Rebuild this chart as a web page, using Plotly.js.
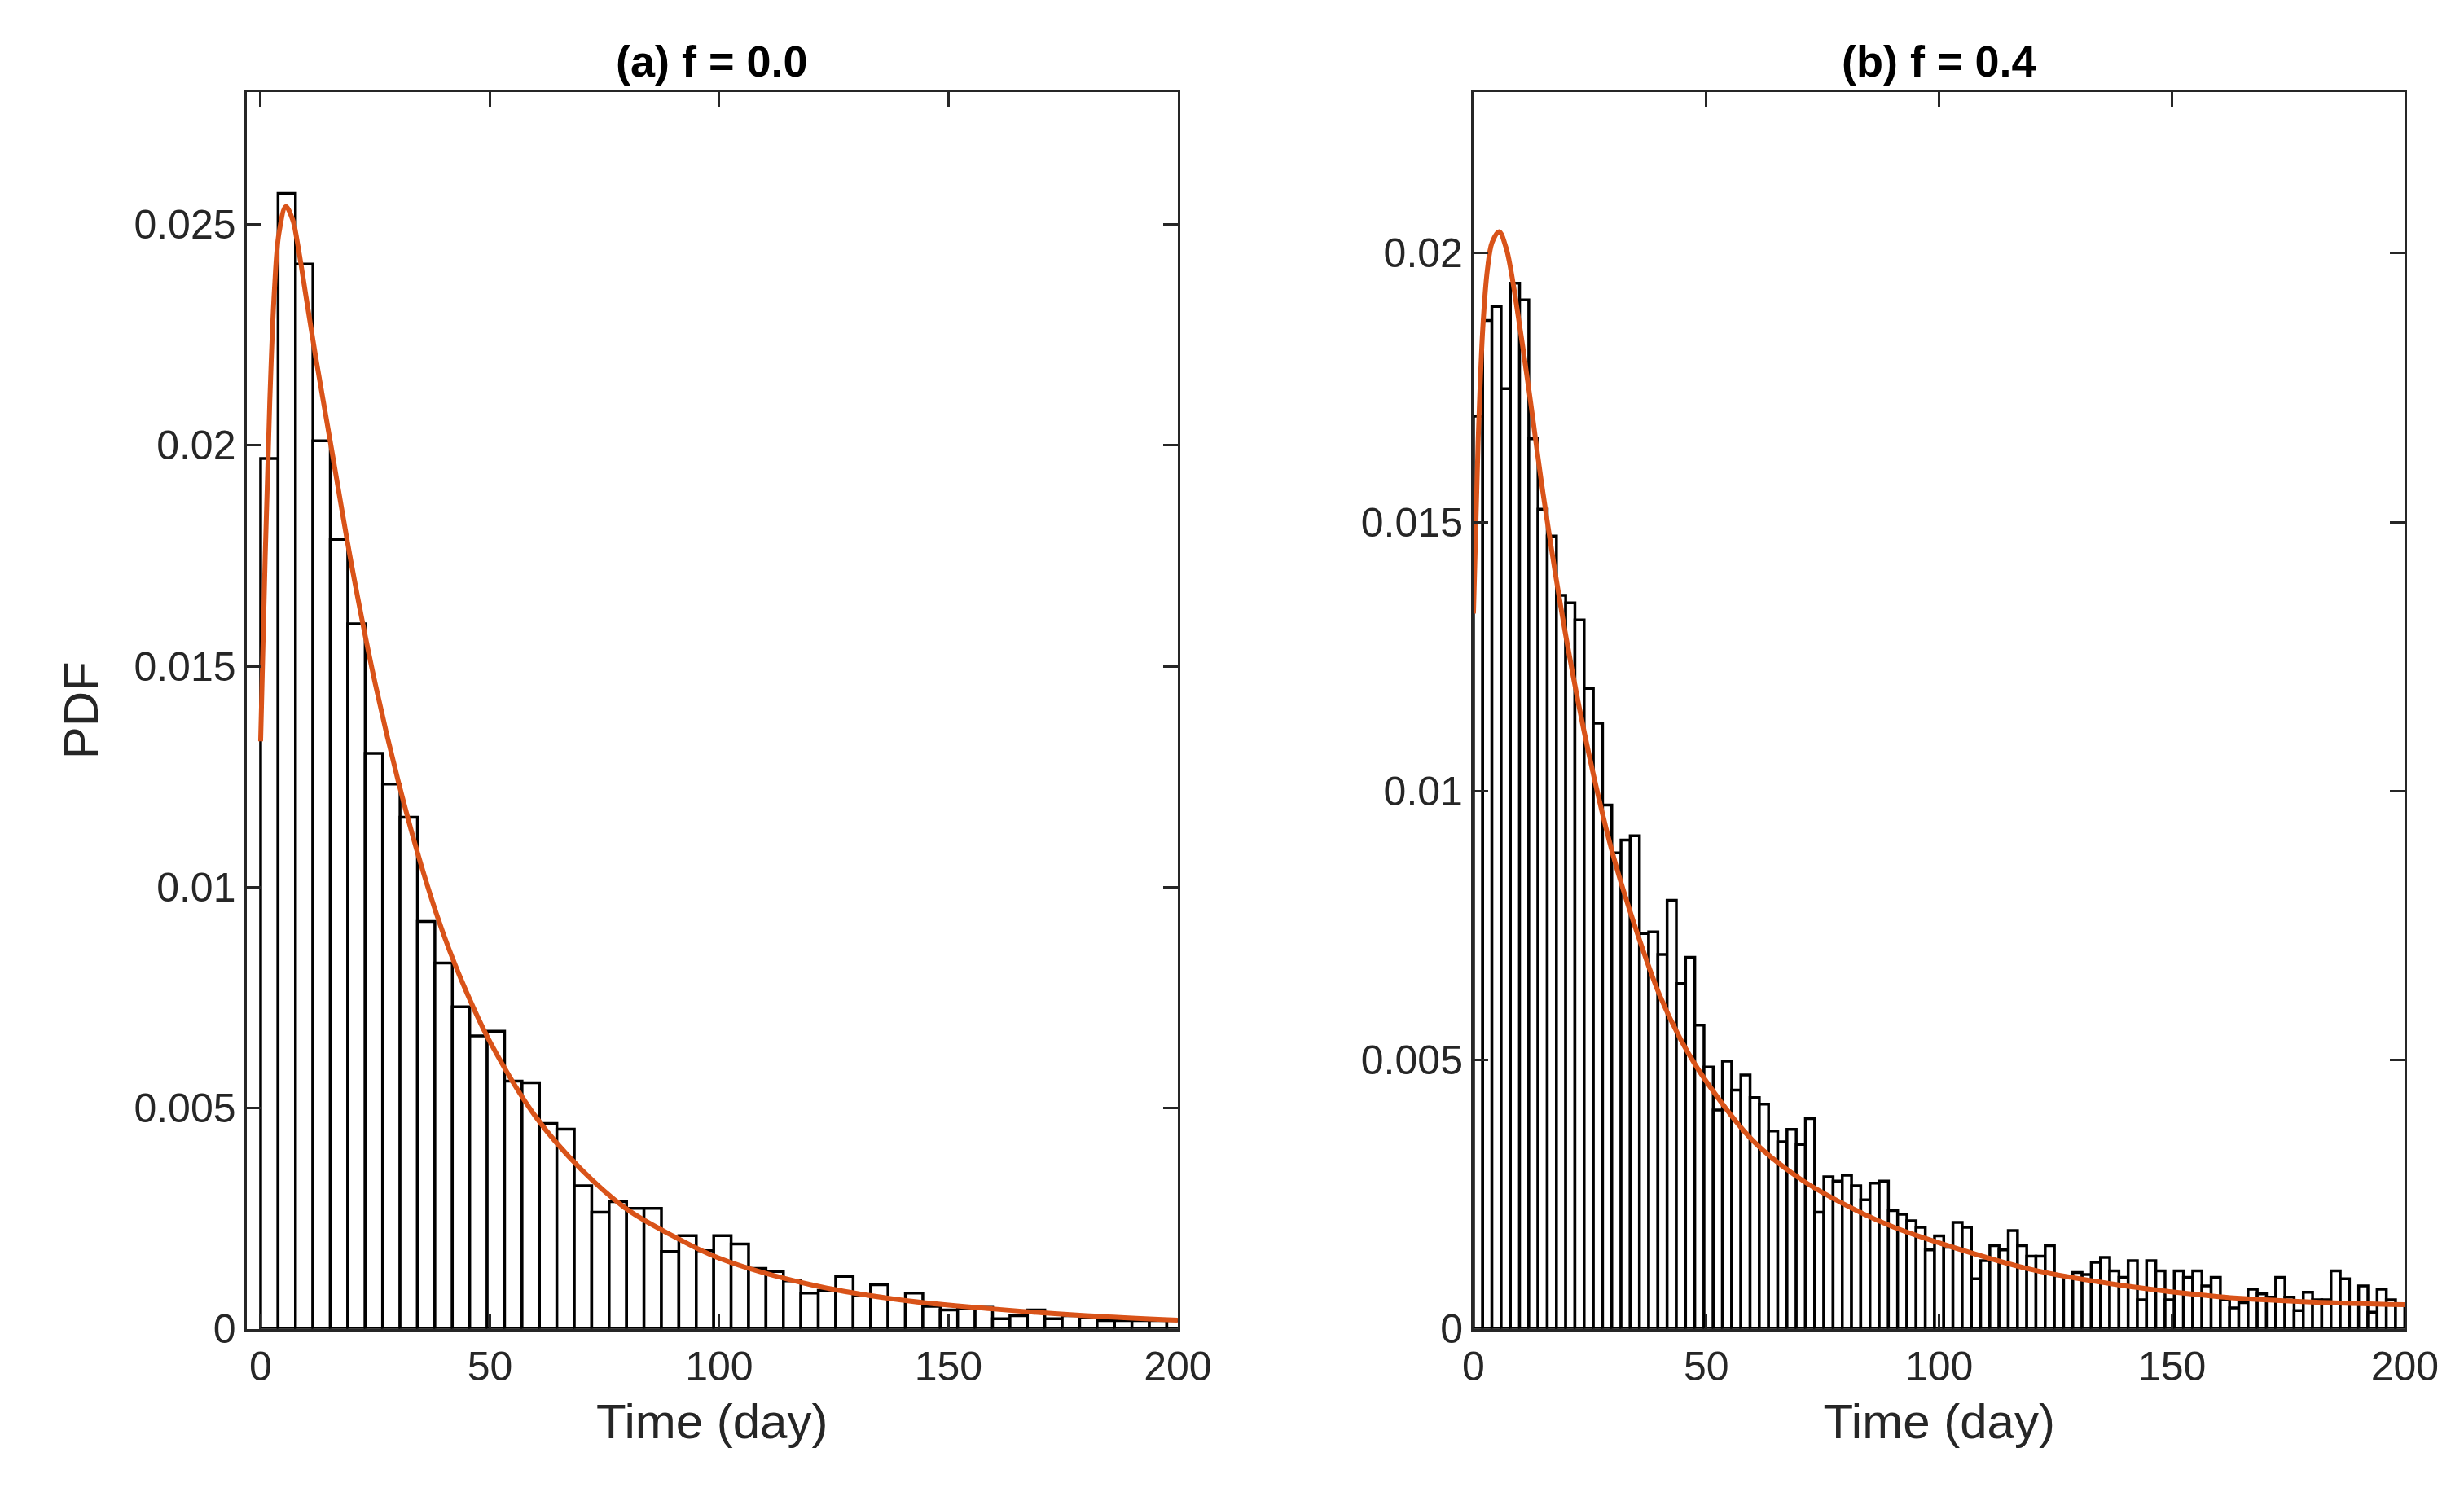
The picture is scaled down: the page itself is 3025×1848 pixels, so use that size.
<!DOCTYPE html>
<html>
<head>
<meta charset="utf-8">
<script src="https://cdn.plot.ly/plotly-3.0.1.min.js"></script>
<style>body{margin:0;background:#fff}#chart{width:3025px;height:1848px}</style>
</head>
<body>
<div id="chart"></div>
<script>
// histogram bin heights
var binA = 3.8;
var histA = [0.0197,0.0257,0.0241,0.0201,0.01787,0.01596,0.01303,0.01233,0.01158,0.00922,
  0.00828,0.00729,0.00663,0.00674,0.00561,0.00557,0.00465,0.00452,0.00324,0.00264,
  0.00288,0.00273,0.00273,0.00175,0.00211,0.00177,0.00211,0.00192,0.00137,0.0013,
  0.00109,0.00081,0.00087,0.00119,0.00075,0.001,0.00066,0.00081,0.00051,0.00043,
  0.00047,0.00049,0.00023,0.0003,0.00043,0.00023,0.0003,0.00026,0.00019,0.00019,
  0.00019,0.00019,0.00019];
var binB = 1.98;
var histB = [0.01697,0.01875,0.01901,0.01748,0.01944,0.01913,0.01655,0.01524,0.01474,0.01364,
  0.0135,0.01318,0.01191,0.01126,0.00974,0.00885,0.00909,0.00917,0.00735,0.00738,
  0.00696,0.00797,0.00642,0.00691,0.00565,0.00487,0.00407,0.00498,0.00444,0.00472,
  0.0043,0.00418,0.00368,0.00348,0.00371,0.00343,0.00391,0.00217,0.00283,0.00275,
  0.00286,0.00266,0.0024,0.00271,0.00275,0.0022,0.00213,0.00201,0.00189,0.00147,
  0.00173,0.00152,0.00198,0.00189,0.00093,0.00127,0.00155,0.00147,0.00183,0.00155,
  0.00135,0.00135,0.00155,0.00099,0.00096,0.00105,0.00101,0.00124,0.00133,0.00108,
  0.00096,0.00127,0.00054,0.00127,0.00108,0.00054,0.00108,0.00096,0.00108,0.0008,
  0.00096,0.00054,0.00039,0.00049,0.00074,0.00065,0.00059,0.00096,0.00059,0.00034,
  0.00068,0.00054,0.00054,0.00108,0.00093,0.00049,0.0008,0.00031,0.00074,0.00054,
  0.00046];

// fitted PDF curves
var fitX = [0,1,2,3,4,5.5,7,8,10,12,15,20,25,30,35,40,45,50,60,70,80,90,100,120,140,160,180,200];
var fitA = [0.0133,0.0175,0.0210,0.0235,0.0248,0.0254,0.0251,0.0246,0.0233,0.0220,0.0202,0.0172,0.0146,0.0124,0.0105,0.0089,0.0076,0.0065,0.0048,0.0036,0.0027,0.0021,0.0016,0.0010,0.00065,0.00045,0.0003,0.0002];
var fitB = [0.0133,0.0165,0.0186,0.0197,0.0202,0.0204,0.0201,0.0197,0.0186,0.0174,0.0155,0.0128,0.0106,0.0088,0.0074,0.0062,0.0053,0.0046,0.0035,0.0028,0.0023,0.0019,0.0016,0.0011,0.0008,0.0006,0.0005,0.00045];

function centers(n, w) { var c = []; for (var i = 0; i < n; i++) c.push((i + 0.5) * w); return c; }

var barStyle = {color: 'white', line: {color: 'black', width: 3.5}};
var lineStyle = {color: '#D95319', width: 6, shape: 'spline'};
var traces = [
  {type: 'bar', x: centers(histA.length, binA), y: histA, width: binA, marker: barStyle, xaxis: 'x', yaxis: 'y'},
  {type: 'scatter', mode: 'lines', x: fitX, y: fitA, line: lineStyle, xaxis: 'x', yaxis: 'y'},
  {type: 'bar', x: centers(histB.length, binB), y: histB, width: binB, marker: barStyle, xaxis: 'x2', yaxis: 'y2'},
  {type: 'scatter', mode: 'lines', x: fitX, y: fitB, line: lineStyle, xaxis: 'x2', yaxis: 'y2'}
];

var font = {family: 'Liberation Sans, Arial, sans-serif', size: 50, color: '#262626'};
function ax(extra) {
  var a = {showline: true, mirror: 'ticks', linecolor: '#262626', linewidth: 3, ticks: 'inside',
    ticklen: 18, tickwidth: 3, tickcolor: '#262626', showgrid: false, zeroline: false, tickfont: font};
  for (var k in extra) a[k] = extra[k];
  return a;
}
var xt = {text: 'Time (day)', font: {family: font.family, size: 60, color: '#262626'}, standoff: 20};
var layout = {
  width: 3025, height: 1848, showlegend: false, plot_bgcolor: 'white', paper_bgcolor: 'white',
  margin: {l: 0, r: 0, t: 0, b: 0}, bargap: 0,
  xaxis: ax({domain: [0.100, 0.478], range: [-3.1, 200], tickvals: [0, 50, 100, 150, 200], title: xt}),
  yaxis: ax({domain: [0.117, 0.939], range: [0, 0.028], tickvals: [0, 0.005, 0.01, 0.015, 0.02, 0.025],
    ticktext: ['0', '0.005', '0.01', '0.015', '0.02', '0.025'],
    title: {text: 'PDF', font: {family: font.family, size: 60, color: '#262626'}, standoff: 25}}),
  xaxis2: ax({domain: [0.598, 0.976], range: [0, 200], tickvals: [0, 50, 100, 150, 200], title: xt, anchor: 'y2'}),
  yaxis2: ax({domain: [0.117, 0.939], range: [0, 0.023], tickvals: [0, 0.005, 0.01, 0.015, 0.02],
    ticktext: ['0', '0.005', '0.01', '0.015', '0.02'], anchor: 'x2'}),
  annotations: [
    {text: '<b>(a) f = 0.0</b>', x: 0.289, y: 0.942, xref: 'paper', yref: 'paper', xanchor: 'center', yanchor: 'bottom', showarrow: false, font: {family: font.family, size: 54, color: 'black'}},
    {text: '<b>(b) f = 0.4</b>', x: 0.787, y: 0.942, xref: 'paper', yref: 'paper', xanchor: 'center', yanchor: 'bottom', showarrow: false, font: {family: font.family, size: 54, color: 'black'}}
  ]
};
Plotly.newPlot('chart', traces, layout, {staticPlot: true});
</script>
</body>
</html>
